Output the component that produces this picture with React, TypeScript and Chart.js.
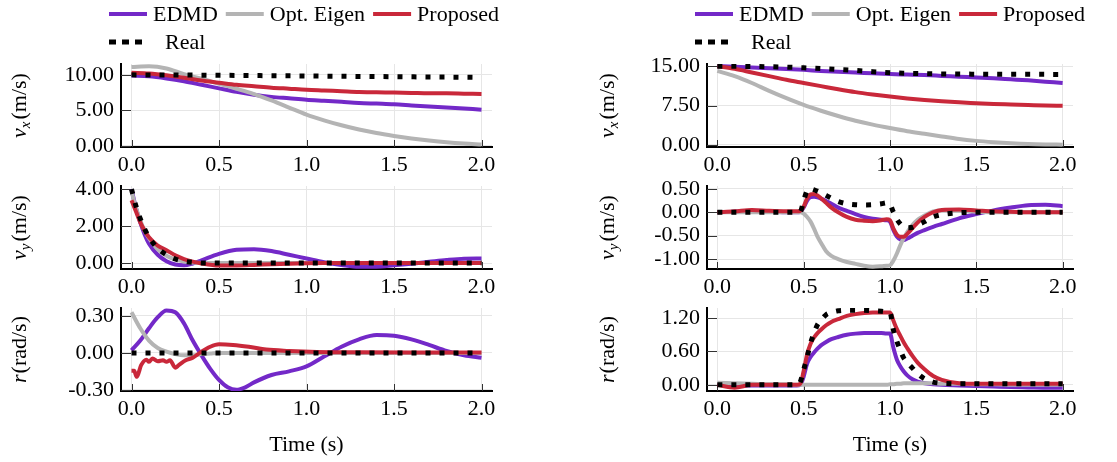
import React, { useEffect, useRef } from "react";
import { Chart, registerables } from "chart.js";

Chart.register(...registerables);

const SERIF = "'Liberation Serif', 'Times New Roman', serif";
const GRID = "#e6e6e6";

const SERIES_LABELS = ["EDMD", "Opt. Eigen", "Proposed", "Real"];
const SERIES_COLORS = ["#7329c8", "#b4b4b4", "#c9283a", "#000000"];

const X_TICKS = [0, 0.5, 1.0, 1.5, 2.0];

// Time grids (s)
const tUniform = [0, 0.1, 0.2, 0.3, 0.4, 0.5, 0.6, 0.7, 0.8, 0.9, 1.0, 1.1, 1.2, 1.3, 1.4, 1.5, 1.6, 1.7, 1.8, 1.9, 2.0];
const tDecay = [0, 0.025, 0.05, 0.075, 0.1, 0.15, 0.2, 0.25, 0.3, 0.35, 0.4, 0.5, 0.6, 0.7, 0.8, 0.9, 1.0, 1.1, 1.2, 1.3, 1.4, 1.5, 1.6, 1.7, 1.8, 1.9, 2.0];
const tYawLeft = [0, 0.05, 0.1, 0.15, 0.2, 0.25, 0.3, 0.35, 0.4, 0.45, 0.5, 0.55, 0.6, 0.65, 0.7, 0.8, 0.9, 1.0, 1.1, 1.2, 1.3, 1.4, 1.5, 1.6, 1.7, 1.8, 1.9, 2.0];
const tYawLeftProposed = [0, 0.015, 0.03, 0.055, 0.085, 0.1, 0.12, 0.15, 0.18, 0.2, 0.22, 0.25, 0.27, 0.31, 0.35, 0.39, 0.45, 0.5, 0.58, 0.67, 0.77, 0.9, 1.06, 1.3, 1.6, 2.0];
const tStep = [0, 0.1, 0.2, 0.3, 0.4, 0.46, 0.48, 0.5, 0.52, 0.54, 0.56, 0.58, 0.6, 0.63, 0.66, 0.7, 0.75, 0.8, 0.85, 0.9, 0.95, 0.98, 1.0, 1.02, 1.04, 1.06, 1.08, 1.1, 1.13, 1.16, 1.2, 1.25, 1.3, 1.4, 1.5, 1.6, 1.7, 1.8, 1.9, 2.0];

// Case A (left column)
const vxA_edmd = [9.9, 9.8, 9.5, 9.1, 8.6, 8.1, 7.6, 7.2, 6.9, 6.7, 6.5, 6.35, 6.2, 6.05, 5.95, 5.85, 5.7, 5.55, 5.4, 5.25, 5.1];
const vxA_eigen = [11.1, 11.2, 10.9, 10.1, 9.45, 8.75, 8.05, 7.3, 6.4, 5.4, 4.4, 3.6, 2.9, 2.3, 1.8, 1.4, 1.05, 0.75, 0.5, 0.32, 0.2];
const vxA_proposed = [10.3, 10.2, 9.95, 9.6, 9.2, 8.9, 8.6, 8.4, 8.2, 8.05, 7.9, 7.8, 7.7, 7.6, 7.55, 7.5, 7.45, 7.4, 7.4, 7.35, 7.3];
const vxA_real = [10.0, 9.99, 9.98, 9.97, 9.96, 9.94, 9.92, 9.9, 9.88, 9.86, 9.84, 9.82, 9.8, 9.78, 9.76, 9.74, 9.72, 9.7, 9.68, 9.66, 9.64];

const vyA_edmd = [4.0, 3.0, 2.2, 1.55, 1.05, 0.45, 0.1, -0.08, -0.12, -0.02, 0.15, 0.5, 0.72, 0.75, 0.65, 0.45, 0.25, 0.05, -0.1, -0.2, -0.2, -0.12, -0.03, 0.07, 0.17, 0.24, 0.25];
const vyA_eigen = [3.9, 3.0, 2.3, 1.75, 1.35, 0.75, 0.4, 0.2, 0.08, 0.03, 0.01, 0, 0, 0, 0, 0, 0, 0, 0, 0, 0, 0, 0, 0, 0, 0, 0];
const vyA_proposed = [3.4, 2.8, 2.2, 1.75, 1.4, 0.95, 0.7, 0.42, 0.22, 0.08, -0.02, -0.13, -0.13, -0.1, -0.06, -0.03, -0.01, 0, 0, 0, 0, 0, 0, 0, 0, 0, 0];
const vyA_real = [4.0, 3.1, 2.4, 1.85, 1.4, 0.8, 0.45, 0.22, 0.1, 0.04, 0.01, 0, 0, 0, 0, 0, 0, 0, 0, 0, 0, 0, 0, 0, 0, 0, 0];

const rA_edmd = [0.02, 0.1, 0.2, 0.29, 0.345, 0.33, 0.24, 0.1, -0.02, -0.13, -0.22, -0.28, -0.3, -0.28, -0.24, -0.18, -0.15, -0.11, -0.03, 0.05, 0.11, 0.145, 0.14, 0.11, 0.065, 0.015, -0.02, -0.04];
const rA_eigen = [0.33, 0.2, 0.1, 0.04, 0.01, -0.01, -0.02, -0.02, -0.01, -0.005, 0, 0, 0, 0, 0, 0, 0, 0, 0, 0, 0, 0, 0, 0, 0, 0, 0, 0];
const rA_proposed = [-0.146, -0.146, -0.195, -0.1, -0.055, -0.073, -0.046, -0.068, -0.06, -0.073, -0.06, -0.12, -0.1, -0.06, -0.04, 0.0, 0.05, 0.07, 0.065, 0.05, 0.027, 0.016, 0.008, 0.005, 0.004, 0.004];
const rA_real = [0, 0, 0, 0, 0, 0, 0, 0, 0, 0, 0, 0, 0, 0, 0, 0, 0, 0, 0, 0, 0, 0, 0, 0, 0, 0, 0, 0];

// Case B (right column)
const vxB_edmd = [15.0, 14.9, 14.75, 14.6, 14.45, 14.3, 14.1, 13.95, 13.8, 13.65, 13.5, 13.4, 13.3, 13.15, 13.0, 12.85, 12.7, 12.5, 12.3, 12.05, 11.8];
const vxB_eigen = [14.1, 13.1, 11.8, 10.3, 8.9, 7.6, 6.5, 5.5, 4.6, 3.85, 3.2, 2.6, 2.1, 1.6, 1.1, 0.75, 0.5, 0.3, 0.15, 0.07, 0.03];
const vxB_proposed = [15.0, 14.5, 13.8, 13.1, 12.4, 11.8, 11.2, 10.6, 10.05, 9.6, 9.2, 8.85, 8.55, 8.3, 8.1, 7.95, 7.8, 7.7, 7.6, 7.5, 7.45];
const vxB_real = [15.0, 14.98, 14.95, 14.9, 14.82, 14.7, 14.55, 14.38, 14.2, 13.95, 13.75, 13.65, 13.58, 13.53, 13.5, 13.48, 13.46, 13.45, 13.45, 13.44, 13.44];

const vyB_edmd = [0, 0.01, 0.03, 0.02, 0.0, 0.0, 0.01, 0.1, 0.25, 0.32, 0.33, 0.32, 0.29, 0.24, 0.18, 0.1, 0.03, -0.04, -0.1, -0.14, -0.16, -0.17, -0.2, -0.38, -0.52, -0.58, -0.59, -0.56, -0.5, -0.44, -0.38, -0.31, -0.25, -0.13, -0.04, 0.04, 0.1, 0.15, 0.16, 0.13];
const vyB_eigen = [0, 0, 0, 0, 0, 0, 0, -0.03, -0.1, -0.2, -0.35, -0.52, -0.65, -0.83, -0.93, -1.0, -1.06, -1.1, -1.14, -1.16, -1.15, -1.14, -1.13, -1.03, -0.88, -0.7, -0.55, -0.42, -0.27, -0.16, -0.07, 0.02, 0.04, 0.03, 0.01, 0, 0, 0, 0, 0];
const vyB_proposed = [0, 0.02, 0.05, 0.03, 0.02, 0.02, 0.03, 0.12, 0.3, 0.38, 0.39, 0.36, 0.3, 0.2, 0.1, 0.0, -0.1, -0.16, -0.18, -0.19, -0.17, -0.15, -0.17, -0.35, -0.48, -0.52, -0.52, -0.46, -0.34, -0.22, -0.1, 0.0, 0.05, 0.06, 0.04, 0.02, 0.01, 0, 0, 0];
const vyB_real = [0, 0, 0, 0, 0, 0, 0.01, 0.25, 0.46, 0.5, 0.48, 0.45, 0.42, 0.36, 0.3, 0.23, 0.18, 0.16, 0.155, 0.16, 0.18, 0.2, 0.17, 0.0, -0.15, -0.25, -0.31, -0.33, -0.32, -0.27, -0.2, -0.1, -0.05, -0.01, 0, 0, 0, 0, 0, 0];

const rB_edmd = [0, -0.01, -0.01, -0.01, -0.01, -0.01, 0.0, 0.15, 0.38, 0.5, 0.58, 0.65, 0.71, 0.77, 0.82, 0.86, 0.9, 0.92, 0.93, 0.93, 0.93, 0.92, 0.92, 0.66, 0.45, 0.33, 0.24, 0.17, 0.1, 0.06, 0.03, 0.01, 0.0, -0.01, -0.02, -0.03, -0.04, -0.045, -0.05, -0.05];
const rB_eigen = [0.04, 0.03, 0.02, 0.01, 0.01, 0, 0, 0, 0, 0, 0, 0, 0, 0, 0, 0, 0, 0, 0, 0, 0, 0, 0.01, 0.01, 0.02, 0.02, 0.03, 0.03, 0.03, 0.03, 0.03, 0.03, 0.02, 0.02, 0.01, 0.01, 0, 0, 0, 0];
const rB_proposed = [0, -0.05, 0, 0, 0, 0, 0.02, 0.25, 0.55, 0.74, 0.85, 0.93, 0.99, 1.07, 1.13, 1.18, 1.24, 1.27, 1.29, 1.3, 1.3, 1.3, 1.3, 1.15, 1.0, 0.88, 0.76, 0.66, 0.52, 0.4, 0.28, 0.16, 0.09, 0.03, 0.02, 0.02, 0.02, 0.02, 0.02, 0.02];
const rB_real = [0, 0, 0, 0, 0, 0, 0.05, 0.27, 0.5, 0.75, 0.93, 1.08, 1.16, 1.26, 1.3, 1.33, 1.34, 1.34, 1.34, 1.33, 1.32, 1.31, 1.3, 0.98, 0.78, 0.62, 0.48, 0.4, 0.3, 0.2, 0.11, 0.05, 0.03, 0.02, 0.02, 0.02, 0.02, 0.02, 0.02, 0.02];

// Y tick values per panel
const yTicksVxA = [0, 5, 10];
const yTicksVyA = [0, 2, 4];
const yTicksRA = [-0.3, 0, 0.3];
const yTicksVxB = [0, 7.5, 15];
const yTicksVyB = [-1, -0.5, 0, 0.5];
const yTicksRB = [0, 0.6, 1.2];

type Part = { text: string; italic?: boolean; sub?: boolean; gap?: number };
type Series = { t: number[]; v: number[] };
type Panel = {
  key: string;
  left: number;
  top: number;
  width: number;
  height: number;
  padTop: number;
  padRight: number;
  yWidth: number;
  xHeight: number;
  yMin: number;
  yMax: number;
  yTicks: number[];
  title: Part[];
  titleX: number;
  legend: boolean;
  xTitle: boolean;
  series: Series[];
};

const VX_TITLE: Part[] = [{ text: "v", italic: true }, { text: "x", italic: true, sub: true, gap: 2 }, { text: "(m/s)" }];
const VY_TITLE: Part[] = [{ text: "v", italic: true }, { text: "y", italic: true, sub: true, gap: 2 }, { text: "(m/s)" }];
const R_TITLE: Part[] = [{ text: "r", italic: true, gap: 1 }, { text: "(rad/s)" }];

const ROWS = [
  { top: 0, height: 185, padTop: 64, xHeight: 38 },
  { top: 164, height: 146, padTop: 22, xHeight: 41 },
  { top: 286, height: 176, padTop: 22, xHeight: 71 },
];
const COLS = [
  { left: 0, width: 510, padRight: 18, yWidth: 121, titleX: 19 },
  { left: 585, width: 515, padRight: 27, yWidth: 122, titleX: 22 },
];

function panel(key: string, row: number, col: number, yMin: number, yMax: number, yTicks: number[], title: Part[], series: Series[]): Panel {
  const r = ROWS[row];
  const c = COLS[col];
  return {
    key,
    left: c.left,
    top: r.top,
    width: c.width,
    height: r.height,
    padTop: r.padTop,
    padRight: c.padRight,
    yWidth: c.yWidth,
    xHeight: r.xHeight,
    yMin,
    yMax,
    yTicks,
    title,
    titleX: c.titleX,
    legend: row === 0,
    xTitle: row === 2,
    series,
  };
}

const PANELS: Panel[] = [
  panel("vxA", 0, 0, -0.16, 11.53, yTicksVxA, VX_TITLE, [
    { t: tUniform, v: vxA_edmd },
    { t: tUniform, v: vxA_eigen },
    { t: tUniform, v: vxA_proposed },
    { t: tUniform, v: vxA_real },
  ]),
  panel("vyA", 1, 0, -0.32, 4.17, yTicksVyA, VY_TITLE, [
    { t: tDecay, v: vyA_edmd },
    { t: tDecay, v: vyA_eigen },
    { t: tDecay, v: vyA_proposed },
    { t: tDecay, v: vyA_real },
  ]),
  panel("rA", 2, 0, -0.31, 0.365, yTicksRA, R_TITLE, [
    { t: tYawLeft, v: rA_edmd },
    { t: tYawLeft, v: rA_eigen },
    { t: tYawLeftProposed, v: rA_proposed },
    { t: tYawLeft, v: rA_real },
  ]),
  panel("vxB", 0, 1, -0.42, 15.42, yTicksVxB, VX_TITLE, [
    { t: tUniform, v: vxB_edmd },
    { t: tUniform, v: vxB_eigen },
    { t: tUniform, v: vxB_proposed },
    { t: tUniform, v: vxB_real },
  ]),
  panel("vyB", 1, 1, -1.21, 0.56, yTicksVyB, VY_TITLE, [
    { t: tStep, v: vyB_edmd },
    { t: tStep, v: vyB_eigen },
    { t: tStep, v: vyB_proposed },
    { t: tStep, v: vyB_real },
  ]),
  panel("rB", 2, 1, -0.11, 1.38, yTicksRB, R_TITLE, [
    { t: tStep, v: rB_edmd },
    { t: tStep, v: rB_eigen },
    { t: tStep, v: rB_proposed },
    { t: tStep, v: rB_real },
  ]),
];

// Short tick marks pointing into the plot area
const tickMarks = {
  id: "tickMarks",
  beforeDatasetsDraw(chart: any) {
    const { ctx, chartArea: a, scales } = chart;
    ctx.save();
    ctx.strokeStyle = "#333";
    ctx.lineWidth = 1;
    ctx.beginPath();
    for (const t of scales.y.ticks) {
      const y = Math.round(scales.y.getPixelForValue(t.value)) + 0.5;
      ctx.moveTo(a.left, y);
      ctx.lineTo(a.left + 10, y);
    }
    for (const t of scales.x.ticks) {
      const x = Math.round(scales.x.getPixelForValue(t.value)) + 0.5;
      ctx.moveTo(x, a.bottom);
      ctx.lineTo(x, a.bottom - 7);
    }
    ctx.stroke();
    ctx.restore();
  },
};

// Rotated y-axis title with italic symbol and subscript
const axisTitle = {
  id: "axisTitle",
  afterDraw(chart: any, _args: any, opts: any) {
    if (!opts || !opts.parts) return;
    const { ctx, chartArea: a } = chart;
    const parts: Part[] = opts.parts;
    const fontOf = (p: Part) => `${p.italic ? "italic " : ""}${p.sub ? 15 : 22}px ${SERIF}`;
    let total = 0;
    const widths: number[] = [];
    ctx.save();
    parts.forEach((p) => {
      ctx.font = fontOf(p);
      const w = ctx.measureText(p.text).width;
      widths.push(w);
      total += w + (p.gap || 0);
    });
    ctx.translate(opts.x, (a.top + a.bottom) / 2);
    ctx.rotate(-Math.PI / 2);
    ctx.fillStyle = "#000";
    ctx.textBaseline = "alphabetic";
    ctx.textAlign = "left";
    let x = -total / 2;
    const base = 7;
    parts.forEach((p, i) => {
      ctx.font = fontOf(p);
      ctx.fillText(p.text, x, p.sub ? base + 4 : base);
      x += widths[i] + (p.gap || 0);
    });
    ctx.restore();
  },
};

// Series legend above the top panels
const seriesLegend = {
  id: "seriesLegend",
  afterDraw(chart: any, _args: any, opts: any) {
    if (!opts || !opts.show) return;
    const { ctx, chartArea: a } = chart;
    const sets = chart.data.datasets;
    const x0 = a.left - 12;
    const rowY = [14, 42];
    ctx.save();
    ctx.font = `22px ${SERIF}`;
    ctx.textBaseline = "middle";
    ctx.textAlign = "left";
    ctx.fillStyle = "#000";
    const swatch = (x: number, y: number, ds: any, dotted: boolean) => {
      ctx.save();
      ctx.strokeStyle = ds.borderColor;
      ctx.lineCap = "butt";
      ctx.lineWidth = dotted ? 5 : 4;
      ctx.setLineDash(dotted ? [7, 6] : []);
      ctx.beginPath();
      ctx.moveTo(x, y);
      ctx.lineTo(x + (dotted ? 33 : 38), y);
      ctx.stroke();
      ctx.restore();
    };
    let x = x0;
    sets.forEach((ds: any, i: number) => {
      if (i < 3) {
        swatch(x, rowY[0], ds, false);
        ctx.fillText(ds.label, x + 44, rowY[0] + 1);
        x += 44 + ctx.measureText(ds.label).width + 8;
      } else {
        swatch(x0, rowY[1], ds, true);
        ctx.fillText(ds.label, x0 + 56, rowY[1] + 1);
      }
    });
    ctx.restore();
  },
};

function buildConfig(p: Panel): any {
  const tickFont = { family: SERIF, size: 22 };
  return {
    type: "line",
    data: {
      datasets: p.series.map((s, i) => ({
        label: SERIES_LABELS[i],
        data: s.t.map((t, k) => ({ x: t, y: s.v[k] })),
        borderColor: SERIES_COLORS[i],
        backgroundColor: SERIES_COLORS[i],
        borderWidth: i === 3 ? 5 : 4,
        borderDash: i === 3 ? [5, 9] : [],
        borderCapStyle: "butt",
        pointRadius: 0,
        fill: false,
        cubicInterpolationMode: "monotone",
        order: 4 - i,
      })),
    },
    options: {
      animation: false,
      responsive: false,
      devicePixelRatio: 1,
      events: [],
      layout: { padding: { top: p.padTop, left: 0, right: p.padRight, bottom: 0 } },
      plugins: {
        legend: { display: false },
        tooltip: { enabled: false },
        seriesLegend: { show: p.legend },
        axisTitle: { parts: p.title, x: p.titleX },
      },
      scales: {
        x: {
          type: "linear",
          min: -0.06,
          max: 2.06,
          afterBuildTicks: (s: any) => {
            s.ticks = X_TICKS.map((v) => ({ value: v }));
          },
          afterFit: (s: any) => {
            s.height = p.xHeight;
            s.paddingLeft = 0;
            s.paddingRight = 0;
          },
          grid: { color: GRID, lineWidth: 1, drawTicks: false },
          border: { display: true, color: "#000", width: 2 },
          ticks: {
            color: "#000",
            font: tickFont,
            padding: 5,
            autoSkip: false,
            maxRotation: 0,
            callback: (v: any) => Number(v).toFixed(1),
          },
          title: {
            display: p.xTitle,
            text: "Time (s)",
            color: "#000",
            font: tickFont,
            padding: { top: 0, bottom: 4 },
          },
        },
        y: {
          type: "linear",
          min: p.yMin,
          max: p.yMax,
          afterBuildTicks: (s: any) => {
            s.ticks = p.yTicks.map((v) => ({ value: v }));
          },
          afterFit: (s: any) => {
            s.width = p.yWidth;
            s.paddingTop = 0;
            s.paddingBottom = 0;
          },
          grid: { color: GRID, lineWidth: 1, drawTicks: false },
          border: { display: true, color: "#000", width: 2 },
          ticks: {
            color: "#000",
            font: tickFont,
            padding: 7,
            autoSkip: false,
            callback: (v: any) => Number(v).toFixed(2),
          },
        },
      },
    },
    plugins: [tickMarks, axisTitle, seriesLegend],
  };
}

function PanelChart({ p }: { p: Panel }) {
  const ref = useRef<HTMLCanvasElement>(null);
  useEffect(() => {
    if (!ref.current) return;
    const chart = new Chart(ref.current, buildConfig(p));
    return () => chart.destroy();
  }, [p]);
  return (
    <canvas
      ref={ref}
      width={p.width}
      height={p.height}
      style={{ position: "absolute", left: p.left, top: p.top, width: p.width, height: p.height }}
    />
  );
}

export default function App() {
  return (
    <div style={{ position: "absolute", left: 0, top: 0, width: 1117, height: 462, background: "#fff", overflow: "hidden" }}>
      {PANELS.map((p) => (
        <PanelChart key={p.key} p={p} />
      ))}
    </div>
  );
}
